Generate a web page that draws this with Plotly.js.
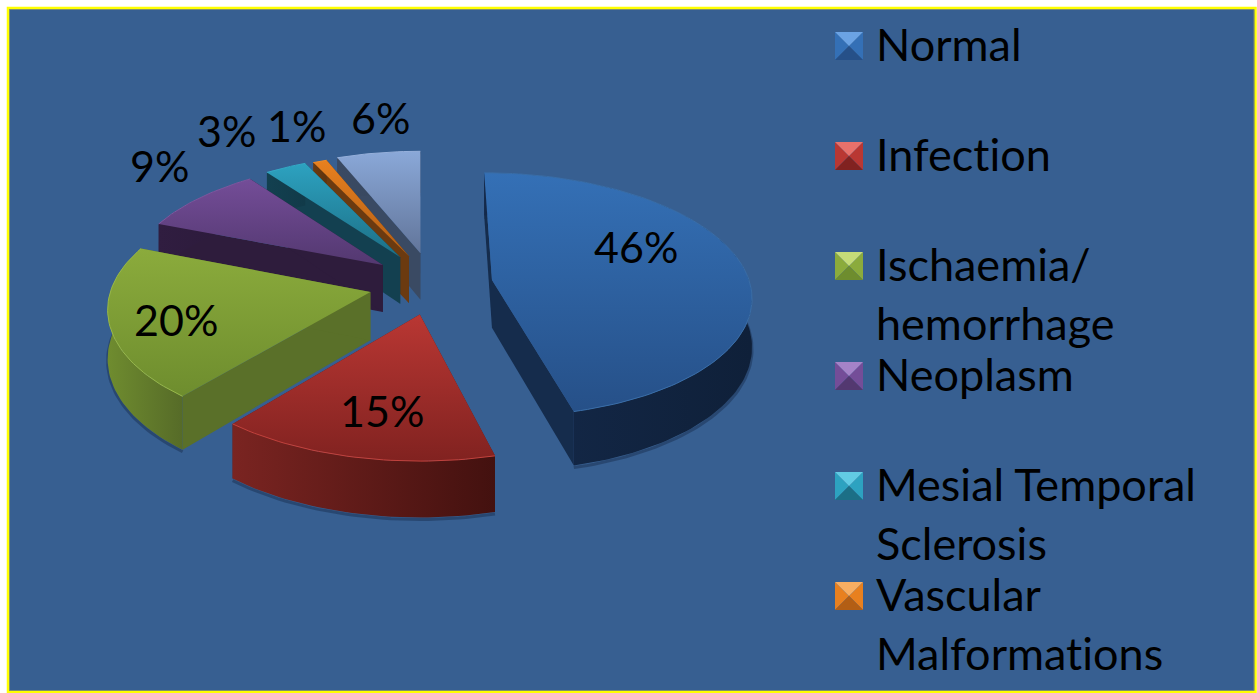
<!DOCTYPE html>
<html>
<head>
<meta charset="utf-8">
<script src="https://cdn.plot.ly/plotly-3.0.1.min.js"></script>
<style>html,body{margin:0;padding:0;background:#fff;overflow:hidden}
text{font-variant-ligatures:none;font-feature-settings:"liga" 0}</style>
</head>
<body>
<div id="chart" style="width:1257px;height:693px"></div>
<script>
// ---- data ----
const categories = ["Normal","Infection","Ischaemia/<br>hemorrhage","Neoplasm","Mesial Temporal<br>Sclerosis","Vascular<br>Malformations","Other"];
const values = [46,15,20,9,3,1,6];
const legendCount = 6; // the seventh entry is cut off in the reference

// ---- styles ----
const topLight  = ["#3470b6","#b93733","#8bab3c","#744d98","#2da2c0","#e8801f","#8aa8d8"];
const topDark   = ["#265088","#812220","#6e8d2e","#533870","#1c6f86","#b35e14","#62759a"];
const wallLight = ["#14294a","#7a2421","#6f8c2f","#301d40","#134050","#6b3a10","#3a4a63"];
const wallDark  = ["#0f2039","#43110f","#566b28","#2b1a3a","#113a49","#5f330e","#36455c"];
const cutColor  = ["#152c4c","#5c1a18","#5a7029","#2e1c3c","#134050","#6b3a10","#3a4a63"];
const rimColor  = ["#3a6ea8","#c2423d","#98b84a","#7d58a0","#35a8c6","#ee8c2c","#95b0dc"];
const swLight   = ["#6ba3e4","#e8716b","#c5dc78","#a583c8","#62cbe4","#f8ae62"];
const pullX = [0.284, 0.003,-0.187,-0.143,-0.075,-0.040, 0.006];
const pullY = [0.033,-0.245,-0.065, 0.160, 0.228, 0.236, 0.263];
const labelX = [636,382,176,159,226,296,380];
const labelY = [246,410,319,165,130,125,117];
const cx=419, cy=284, Rx=258, Ry=121, persp=0.12, depth=48;
const bg="#375f91";
const fontFam="Lato, 'Noto Sans', sans-serif";

function project(X,Y,drop){
  const s=1/(1+persp*Y);
  return [cx+Rx*X*s, cy-Ry*Y*s+(drop?depth*s:0)];
}
function poly(pts,color,extra){
  return Object.assign({type:"scatter",mode:"lines",x:pts.map(p=>p[0]),y:pts.map(p=>p[1]),
    fill:"toself",fillcolor:color,line:{width:0,color:color},hoverinfo:"skip",showlegend:false},extra||{});
}
function stroke(pts,color,w){
  return {type:"scatter",mode:"lines",x:pts.map(p=>p[0]),y:pts.map(p=>p[1]),
    line:{width:w,color:color},hoverinfo:"skip",showlegend:false};
}
function grad(type,a,b,start,stop){
  return {fillgradient:{type:type,colorscale:[[0,a],[1,b]],start:start,stop:stop}};
}

const total=values.reduce((a,b)=>a+b,0);
let acc=0;
const ranges=values.map(v=>{const r=[acc/total*2*Math.PI,(acc+v)/total*2*Math.PI];acc+=v;return r;});

const traces=[];
[6,5,4,3,2,0,1].forEach(i=>{
  const [t0,t1]=ranges[i];
  const n=Math.max(4,Math.round((t1-t0)*40));
  const world=[];
  for(let k=0;k<=n;k++){const t=t0+(t1-t0)*k/n;world.push([pullX[i]+Math.sin(t),pullY[i]+Math.cos(t)]);}
  const rimTop=world.map(w=>project(w[0],w[1],false));
  const rimLow=world.map(w=>project(w[0],w[1],true));
  const apexT=project(pullX[i],pullY[i],false), apexB=project(pullX[i],pullY[i],true);
  // soft shadow below the wall
  traces.push(stroke(rimLow.map(p=>[p[0],p[1]+2]),"rgba(15,30,55,0.35)",3));
  // cut faces
  traces.push(poly([apexT,rimTop[0],rimLow[0],apexB,apexT],cutColor[i]));
  traces.push(poly([apexT,rimTop[n],rimLow[n],apexB,apexT],cutColor[i]));
  // curved wall
  const xs=rimTop.map(p=>p[0]);
  traces.push(poly(rimTop.concat(rimLow.slice().reverse()).concat([rimTop[0]]),wallDark[i],
    grad("horizontal",wallLight[i],wallDark[i],Math.min(...xs),Math.max(...xs))));
  // top face
  const top=[apexT].concat(rimTop).concat([apexT]);
  const ys=top.map(p=>p[1]);
  traces.push(poly(top,topDark[i],grad("vertical",topLight[i],topDark[i],Math.min(...ys),Math.max(...ys))));
  traces.push(stroke(rimTop,rimColor[i],1));
});

// legend swatches
const swX=835, swS=28, swY0=46, swStep=110;
const annotations=[];
for(let i=0;i<legendCount;i++){
  const yc=swY0+swStep*i, x0=swX, x1=swX+swS, y0=yc-swS/2, y1=yc+swS/2, mx=swX+swS/2, my=yc;
  traces.push(poly([[x0,y0],[x0,y1],[mx,my],[x0,y0]],topLight[i]));
  traces.push(poly([[x1,y0],[x1,y1],[mx,my],[x1,y0]],topLight[i]));
  traces.push(poly([[x0,y1],[x1,y1],[mx,my],[x0,y1]],topDark[i]));
  traces.push(poly([[x0,y0],[x1,y0],[mx,my],[x0,y0]],swLight[i]));
  annotations.push({x:875,y:yc-30,xref:"x",yref:"y",xanchor:"left",yanchor:"top",align:"left",showarrow:false,
    text:categories[i],font:{family:fontFam,size:45,color:"#000"},borderpad:0});
}
values.forEach((v,i)=>annotations.push({x:labelX[i],y:labelY[i],xref:"x",yref:"y",xanchor:"center",yanchor:"middle",
  showarrow:false,text:v+"%",font:{family:fontFam,size:43,color:"#000"},borderpad:0}));

const layout={
  width:1257,height:693,margin:{l:0,r:0,t:0,b:0},paper_bgcolor:"#ffffff",plot_bgcolor:"#ffffff",
  xaxis:{range:[0,1257],visible:false,fixedrange:true},
  yaxis:{range:[693,0],visible:false,fixedrange:true},
  showlegend:false,annotations:annotations,
  shapes:[
    {type:"rect",xref:"x",yref:"y",x0:8,y0:8,x1:1255.5,y1:692,fillcolor:bg,line:{color:"#ffff00",width:2.5},layer:"below"},
    {type:"rect",xref:"x",yref:"y",x0:9.5,y0:9.5,x1:1254,y1:690.5,fillcolor:"rgba(0,0,0,0)",line:{color:"#7f8f70",width:1},layer:"below"}
  ]
};
Plotly.newPlot("chart",traces,layout,{staticPlot:true,displayModeBar:false});
</script>
</body>
</html>
